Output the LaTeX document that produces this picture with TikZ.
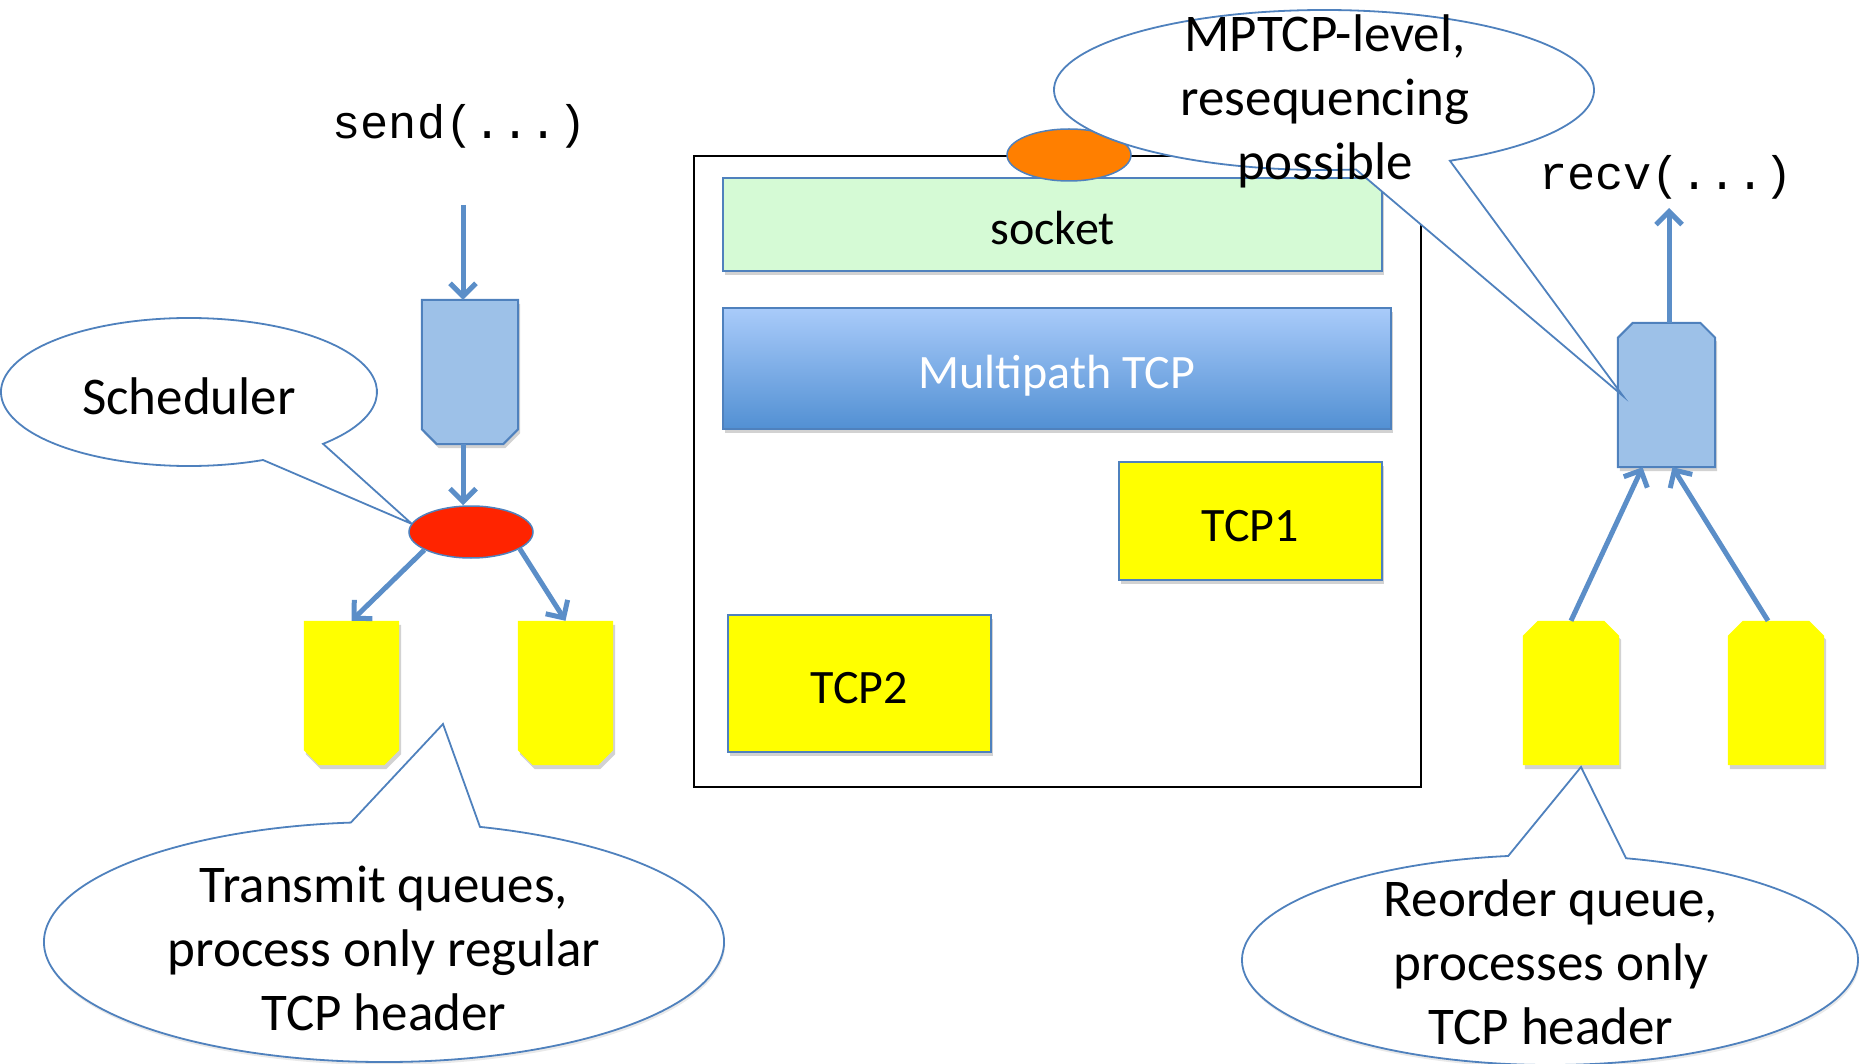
\documentclass[tikz,border=0pt]{standalone}
\usepackage{fontspec}
\setmainfont{Carlito}
\newfontfamily\codefont{Liberation Mono}
\usetikzlibrary{arrows.meta,shadows,calc,shapes.geometric}
\definecolor{outl}{HTML}{4F81BD}
\definecolor{arrc}{HTML}{5B8EC8}
\definecolor{qblue}{HTML}{9DC1E8}
\definecolor{sockg}{HTML}{D5FAD5}
\definecolor{mtop}{HTML}{A9CBFA}
\definecolor{mbot}{HTML}{5290D3}
\definecolor{schedred}{HTML}{FF2400}
\definecolor{orng}{HTML}{FF7F00}
\definecolor{qyellow}{HTML}{FFFF00}
\begin{document}
\begin{tikzpicture}[x=1pt,y=-1pt,
  myshadow/.style={drop shadow={shadow xshift=2pt,shadow yshift=-4pt,opacity=0.25,fill=black!70}},
  lightshadow/.style={drop shadow={shadow xshift=1pt,shadow yshift=-3pt,opacity=0.12,fill=black!70}},
  arr/.style={draw=arrc, line width=5pt, -{Straight Barb[length=13pt,width=26pt,line width=5pt]}},
  callout/.style={draw=outl, fill=white, line width=1.8pt, line join=miter},
  calltext/.style={font=\fontsize{53}{64}\selectfont, align=center, inner sep=0pt},
  codetext/.style={font=\codefont\fontsize{47}{52}\selectfont, inner sep=0pt, anchor=base},
  qnode/.style={rectangle, inner sep=0pt, minimum height=144pt},
  blueq/.style={draw=outl, fill=qblue, line width=2pt, myshadow},
  yellq/.style={fill=qyellow, myshadow},
  layerbox/.style={rectangle, draw=outl, line width=2pt, inner sep=0pt, text depth=0pt, text height=40pt,
     font=\fontsize{48}{56}\selectfont, myshadow},
  blob/.style={ellipse, draw=outl, line width=1.5pt, inner sep=0pt, minimum width=124pt, minimum height=52pt}
]
\useasboundingbox (0,0) rectangle (1866,1064);

% ---------- left side: sender ----------
\node[codetext] (sendtxt) at (459.5,139) {send(...)};
\coordinate (sendin) at (463,205);

\coordinate (schedc) at (189,392);
\coordinate (schedtip) at (412,524);
\path[callout] (schedtip) -- ($(schedc)+(66.8:188 and 74)$)
   arc[start angle=66.8, end angle=404.5, x radius=188, y radius=74] -- cycle;
\node[calltext] (schedtxt) at (189,396.5) {Scheduler};

\coordinate (transc) at (384,942);
\coordinate (transtip) at (443,724);
\path[callout, lightshadow] (transtip) -- ($(transc)+(286.4:340 and 120)$)
   arc[start angle=286.4, end angle=624.4, x radius=340, y radius=120] -- cycle;
\node[calltext] (transtxt) at (384,948) {Transmit queues,\\process only regular\\TCP header};

\node[qnode, minimum width=96pt] (sq) at (470,372) {};
\path[blueq] (sq.north west) -- (sq.north east) -- ([yshift=15pt]sq.south east)
   -- ([xshift=-15pt]sq.south east) -- ([xshift=15pt]sq.south west)
   -- ([yshift=15pt]sq.south west) -- cycle;

\node[blob, fill=schedred] (sched) at (471,532) {};

\node[qnode, minimum width=95pt] (q1) at (351.5,693) {};
\path[yellq] (q1.north west) -- (q1.north east) -- ([yshift=15pt]q1.south east)
   -- ([xshift=-15pt]q1.south east) -- ([xshift=15pt]q1.south west)
   -- ([yshift=15pt]q1.south west) -- cycle;
\node[qnode, minimum width=95pt] (q2) at (565.5,693) {};
\path[yellq] (q2.north west) -- (q2.north east) -- ([yshift=15pt]q2.south east)
   -- ([xshift=-15pt]q2.south east) -- ([xshift=15pt]q2.south west)
   -- ([yshift=15pt]q2.south west) -- cycle;

\draw[arr] (sendin) -- (sendin |- sq.north);
\draw[arr] (sendin |- sq.south) -- (sendin |- sched.north);
\draw[arr] (sched.201) -- (q1.north);
\draw[arr] (sched.341) -- (q2.north);

% ---------- middle: the stack ----------
\node[draw=black, line width=2.5pt, inner sep=0pt, minimum width=727pt, minimum height=631pt] (sys) at (1057.5,471.5) {};
\node[layerbox, fill=sockg, minimum width=659pt, minimum height=93pt] (sock) at (1052.5,224.5) {socket};
\node[layerbox, top color=mtop, bottom color=mbot, text=white, minimum width=668pt, minimum height=121pt] (mp) at (1057,368.5) {Multipath TCP};
\node[layerbox, fill=qyellow, minimum width=263pt, minimum height=118pt] (tcpone) at (1250.5,521) {TCP1};
\node[layerbox, fill=qyellow, minimum width=263pt, minimum height=137pt] (tcptwo) at (859.5,683.5) {TCP2};
\node[blob, fill=orng] (orange) at (1069,155) {};

% ---------- right side: receiver ----------
\node[codetext] (recvtxt) at (1666,190) {recv(...)};
\coordinate (recvout) at (1669,208);

\node[qnode, minimum width=97pt] (rq) at (1666.5,395) {};
\path[blueq] (rq.south west) -- (rq.south east) -- ([yshift=-15pt]rq.north east)
   -- ([xshift=-15pt]rq.north east) -- ([xshift=15pt]rq.north west)
   -- ([yshift=-15pt]rq.north west) -- cycle;

\node[qnode, minimum width=96pt] (r1) at (1571,693) {};
\path[yellq] (r1.south west) -- (r1.south east) -- ([yshift=-15pt]r1.north east)
   -- ([xshift=-15pt]r1.north east) -- ([xshift=15pt]r1.north west)
   -- ([yshift=-15pt]r1.north west) -- cycle;
\node[qnode, minimum width=96pt] (r2) at (1776,693) {};
\path[yellq] (r2.south west) -- (r2.south east) -- ([yshift=-15pt]r2.north east)
   -- ([xshift=-15pt]r2.north east) -- ([xshift=15pt]r2.north west)
   -- ([yshift=-15pt]r2.north west) -- cycle;

\draw[arr] (recvout |- rq.north) -- (recvout);
\draw[arr] (r1.north) -- ([xshift=-24pt]rq.south);
\draw[arr] ([xshift=-8pt]r2.north) -- ([xshift=6pt]rq.south);

% MPTCP callout
\coordinate (mpc) at (1324,90);
\coordinate (mptip) at (1623,396);
\path[callout] (mptip) -- ($(mpc)+(83.2:270 and 80)$)
   arc[start angle=83.2, end angle=422.2, x radius=270, y radius=80] -- cycle;
\node[calltext] (mptxt) at (1325,101) {MPTCP-level,\\resequencing\\possible};

% Reorder callout
\coordinate (reordc) at (1550,960);
\coordinate (reordtip) at (1581,767);
\path[callout, lightshadow] (reordtip) -- ($(reordc)+(284.3:308 and 105)$)
   arc[start angle=284.3, end angle=622.2, x radius=308, y radius=105] -- cycle;
\node[calltext] (reordtxt) at (1551,962.5) {Reorder queue,\\processes only\\TCP header};
\end{tikzpicture}
\end{document}
